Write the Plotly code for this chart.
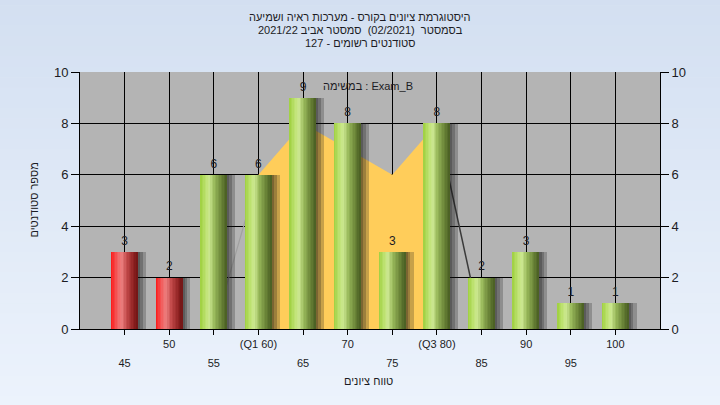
import plotly.graph_objects as go

# ---------------- data ----------------
categories = [45, 50, 55, 60, 65, 70, 75, 80, 85, 90, 95, 100]
counts = [3, 2, 6, 6, 9, 8, 3, 8, 2, 3, 1, 1]
tick_labels = ["45", "50", "55", "(Q1 60)", "65", "70", "75", "(Q3 80)", "85", "90", "95", "100"]
bar_group = ["fail", "fail", "pass", "pass", "pass", "pass", "pass", "pass", "pass", "pass", "pass", "pass"]
area_values = [None, None, 0, 6, 8, 7, 6, 8, 0, None, None, None]

title_lines = [
    "היסטוגרמת ציונים בקורס - מערכות ראיה ושמיעה",
    "בסמסטר  (02/2021)  סמסטר אביב 2021/22",
    "סטודנטים רשומים - 127",
]
legend_text = "במשימה : Exam_B"
y_title = "מספר סטודנטים"
x_title = "טווח ציונים"

FONT = "Liberation Sans, Arial, DejaVu Sans, sans-serif"
TXT = "#1c1c24"

# ---------------- styling helpers ----------------
def lerp_stops(stops, t):
    for (t0, c0), (t1, c1) in zip(stops, stops[1:]):
        if t0 <= t <= t1:
            f = 0 if t1 == t0 else (t - t0) / (t1 - t0)
            return tuple(round(a + (b - a) * f) for a, b in zip(c0, c1))
    return stops[-1][1]

green_stops = [(0.0, (158, 208, 62)), (0.22, (192, 227, 118)), (0.35, (204, 232, 145)),
               (0.55, (150, 182, 88)), (0.8, (106, 132, 56)), (1.0, (72, 92, 34))]
red_stops = [(0.0, (252, 22, 22)), (0.28, (240, 105, 105)), (0.4, (236, 126, 126)),
             (0.6, (192, 72, 72)), (0.85, (145, 35, 35)), (1.0, (112, 20, 20))]

fig = go.Figure()

# ---------------- area (main subplot, below bars) ----------------
ax = [c for c, v in zip(categories, area_values) if v]
ay = [v for v in area_values if v]
fig.add_trace(go.Scatter(x=ax, y=ay, mode="lines", fill="tozeroy", fillcolor="#ffcd5a",
                         line=dict(width=0, color="#ffcd5a"), hoverinfo="skip", showlegend=False))
idx = [i for i, v in enumerate(area_values) if v is not None]
first, last = idx[0], idx[-1]
fig.add_trace(go.Scatter(x=categories[first:first + 2], y=area_values[first:first + 2], mode="lines",
                         line=dict(width=1.2, color="#a0a0a0"), hoverinfo="skip", showlegend=False))
fig.add_trace(go.Scatter(x=categories[last - 1:last + 1], y=area_values[last - 1:last + 1], mode="lines",
                         line=dict(width=1.5, color="#3a3a3a"), hoverinfo="skip", showlegend=False))

# ---------------- bars (overlay subplot x2) ----------------
BW = 2.95
for off in [0.9, 0.55, 0.25]:
    fig.add_trace(go.Bar(x=categories, y=counts, width=BW, offset=-BW / 2 + off,
                         marker=dict(color="rgba(20,20,20,0.24)", line=dict(width=0)), xaxis="x2",
                         hoverinfo="skip", showlegend=False))

N = 18
for i in range(N):
    t = (i + 0.5) / N
    g = "rgb(%d,%d,%d)" % lerp_stops(green_stops, t)
    r = "rgb(%d,%d,%d)" % lerp_stops(red_stops, t)
    cols = [r if grp == "fail" else g for grp in bar_group]
    fig.add_trace(go.Bar(x=categories, y=counts, width=BW / N + 0.02, offset=-BW / 2 + i * BW / N,
                         marker=dict(color=cols, line=dict(width=0)), xaxis="x2",
                         hoverinfo="skip", showlegend=False))

fig.add_trace(go.Scatter(x=categories, y=counts, mode="markers+text", text=[str(c) for c in counts],
                         marker=dict(size=5, opacity=0),
                         textposition="top center", textfont=dict(size=12, color=TXT, family=FONT),
                         xaxis="x2", hoverinfo="skip", showlegend=False))
# invisible trace to show right-hand axis
fig.add_trace(go.Scatter(x=categories, y=counts, mode="markers", marker=dict(opacity=0),
                         yaxis="y2", hoverinfo="skip", showlegend=False))

# ---------------- background ----------------
shapes = []
NS = 40
top, bot = (211, 223, 241), (236, 243, 252)
y_lo, y_hi = -0.3, 1.3
for k in range(NS):
    f = k / (NS - 1)
    c = tuple(round(a + (b - a) * f) for a, b in zip(top, bot))
    y1 = y_hi - (y_hi - y_lo) * k / NS
    y0 = y_hi - (y_hi - y_lo) * (k + 1) / NS
    shapes.append(dict(type="rect", xref="paper", yref="paper", x0=-0.2, x1=1.2, y0=y0 - 0.002, y1=y1,
                       fillcolor="rgb(%d,%d,%d)" % c, line=dict(width=0), layer="below"))
shapes.append(dict(type="rect", xref="paper", yref="paper", x0=0, x1=1, y0=0, y1=1,
                   fillcolor="#b4b4b4", line=dict(width=0), layer="below"))

annotations = []
for ypix, line in zip([17, 30, 43], title_lines):
    annotations.append(dict(text=line, xref="paper", yref="paper", x=(360 - 80) / 580,
                            y=(329 - ypix) / 257, xanchor="center", yanchor="middle",
                            showarrow=False, font=dict(size=11, color=TXT, family=FONT)))
annotations.append(dict(text=legend_text, xref="paper", yref="paper", x=(368 - 80) / 580, y=(329 - 86) / 257,
                        xanchor="center", yanchor="middle", showarrow=False,
                        font=dict(size=11, color=TXT, family=FONT)))
annotations.append(dict(text=y_title, xref="paper", yref="paper", x=(33 - 80) / 580, y=0.5,
                        textangle=-90, xanchor="center", yanchor="middle", showarrow=False,
                        font=dict(size=11, color=TXT, family=FONT)))
annotations.append(dict(text=x_title, xref="paper", yref="paper", x=(368 - 80) / 580, y=(329 - 381) / 257,
                        xanchor="center", yanchor="middle", showarrow=False,
                        font=dict(size=11, color=TXT, family=FONT)))

upper = [lab if i % 2 == 1 else "" for i, lab in enumerate(tick_labels)]

fig.update_layout(
    width=720, height=405, autosize=False,
    margin=dict(l=80, r=60, t=72, b=76),
    paper_bgcolor="#e0e9f6", plot_bgcolor="rgba(0,0,0,0)",
    barmode="overlay", bargap=0, showlegend=False,
    font=dict(family=FONT, color=TXT),
    shapes=shapes, annotations=annotations,
    xaxis=dict(range=[40, 105], tickvals=categories, ticktext=upper, ticks="outside", ticklen=5,
               tickcolor="black", showline=True, linecolor="black", linewidth=1,
               showgrid=True, gridcolor="black", gridwidth=1, zeroline=False,
               tickfont=dict(size=11, color=TXT)),
    xaxis2=dict(range=[40, 105], overlaying="x", anchor="y", side="bottom",
                tickvals=categories[0::2], ticktext=tick_labels[0::2], ticks="",
                showline=False, showgrid=False, zeroline=False, ticklabelstandoff=26,
                tickfont=dict(size=11, color=TXT)),
    yaxis=dict(range=[0, 10], tickvals=[0, 2, 4, 6, 8, 10], ticks="outside", ticklen=8,
               tickcolor="black", showline=True, linecolor="black", linewidth=1,
               showgrid=True, gridcolor="black", gridwidth=1, zeroline=False,
               tickfont=dict(size=13, color=TXT)),
    yaxis2=dict(range=[0, 10], overlaying="y", side="right", anchor="x",
                tickvals=[0, 2, 4, 6, 8, 10], ticks="outside", ticklen=8, tickcolor="black",
                showline=True, linecolor="black", linewidth=1, showgrid=False, zeroline=False,
                tickfont=dict(size=13, color=TXT)),
)

fig.write_html("out.html", config={"displayModeBar": False},
               post_script="document.body.style.margin='0';document.body.style.overflow='hidden';")
